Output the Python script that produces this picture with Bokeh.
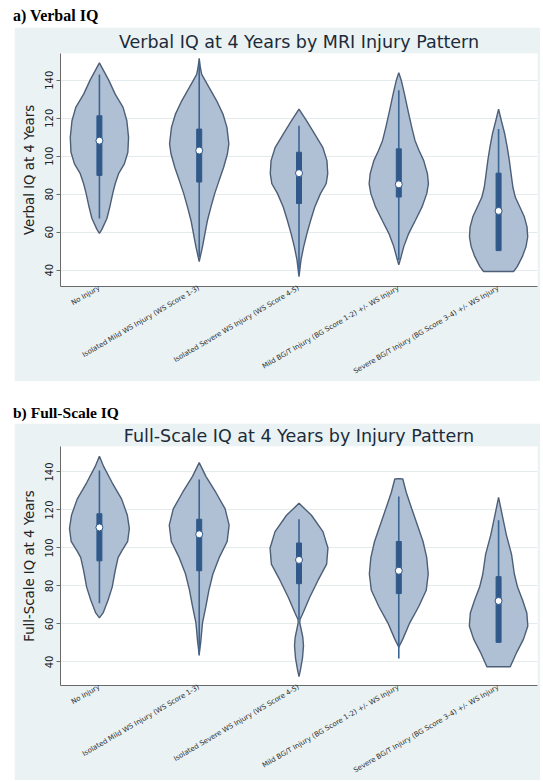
from bokeh.plotting import figure
from bokeh.models import FixedTicker, Range1d, Div
from bokeh.layouts import column
from bokeh.embed import file_html
from bokeh.resources import INLINE

# ---------------- data ----------------
categories = [
    "No Injury",
    "Isolated Mild WS Injury (WS Score 1-3)",
    "Isolated Severe WS Injury (WS Score 4-5)",
    "Mild BG/T Injury (BG Score 1-2) +/- WS Injury",
    "Severe BG/T Injury (BG Score 3-4) +/- WS Injury",
]
positions = [1, 2, 3, 4, 5]
y_ticks = [40, 60, 80, 100, 120, 140]

# Panel a: Verbal IQ -- violin outlines (IQ level, density half-width)
viq1_y = [149.2, 140.2, 132.7, 125.7, 118.7, 109.9, 102.1, 96.0, 90.8, 85.5, 80.3, 74.2, 67.2, 61.5, 59.4]
viq1_d = [0, 9.2, 15.8, 23.7, 27.5, 29.2, 28.5, 25.0, 19.2, 15.8, 13.3, 10.8, 7.5, 2.5, 0]
viq2_y = [151.5, 146.6, 143.1, 136.1, 129.2, 122.2, 115.2, 106.5, 101.3, 94.2, 87.3, 80.3, 73.3, 66.3, 59.4, 52.4, 44.5]
viq2_d = [0, 1.2, 2.5, 10.0, 17.5, 23.8, 27.8, 29.7, 28.3, 24.5, 20.0, 15.5, 11.8, 8.3, 5.8, 3.3, 0]
viq3_y = [124.8, 118.7, 111.7, 104.7, 97.7, 90.8, 85.5, 80.3, 73.3, 66.3, 59.4, 52.4, 45.4, 36.6]
viq3_d = [0, 7.5, 15.8, 23.8, 28.0, 28.8, 27.2, 21.5, 15.8, 11.7, 8.0, 4.7, 2.0, 0]
viq4_y = [144.0, 139.6, 132.7, 123.9, 115.2, 108.2, 103.0, 97.7, 90.8, 85.5, 80.3, 73.3, 66.3, 59.4, 52.4, 47.1, 42.8]
viq4_d = [0, 2.7, 5.7, 9.3, 13.0, 16.3, 20.3, 25.0, 28.7, 29.7, 28.0, 23.3, 16.7, 10.0, 5.0, 2.3, 0]
viq5_y = [124.8, 118.7, 111.7, 104.7, 97.7, 90.8, 83.8, 78.5, 73.3, 68.1, 62.8, 57.6, 52.4, 47.1, 41.9, 39.3]
viq5_d = [0, 2.8, 6.2, 8.7, 10.8, 12.5, 14.3, 16.7, 21.3, 25.8, 28.5, 29.2, 27.5, 23.8, 18.7, 15.0]
viq_median = [108.2, 103.0, 91.1, 85.2, 71.2]
viq_q1 = [89.9, 86.4, 75.1, 78.5, 50.3]
viq_q3 = [121.3, 114.3, 102.1, 103.9, 91.1]
viq_lo = [67.2, 47.0, 38.0, 45.4, 50.3]
viq_hi = [143.1, 150.0, 116.1, 134.8, 114.3]

# Panel b: Full-Scale IQ
fsiq1_y = [148.3, 142.9, 134.3, 125.7, 117.2, 110.3, 103.4, 98.3, 94.9, 88.0, 79.4, 72.6, 65.8, 63.2]
fsiq1_d = [0, 4.2, 12.8, 22.3, 28.0, 30.0, 28.3, 22.3, 18.7, 15.8, 12.8, 8.7, 3.7, 0]
fsiq2_y = [144.9, 137.7, 129.2, 120.6, 112.0, 103.4, 94.9, 86.3, 77.7, 69.2, 60.6, 50.3, 44.0]
fsiq2_d = [0, 6.7, 16.7, 26.0, 30.0, 28.0, 20.0, 13.7, 9.7, 6.7, 3.3, 1.5, 0]
fsiq3_y = [123.5, 117.2, 108.6, 100.0, 91.5, 82.9, 74.3, 65.8, 62.3, 60.5, 58.9, 53.0, 48.6, 42.0, 36.0, 32.3]
fsiq3_d = [0, 12.5, 24.0, 29.0, 27.7, 19.0, 11.0, 4.0, 1.0, 0.8, 1.5, 3.8, 4.5, 3.5, 1.5, 0]
fsiq4_y = [136.5, 136.3, 129.2, 120.6, 112.0, 103.4, 94.9, 86.3, 77.7, 69.2, 60.6, 52.0, 47.8]
fsiq4_d = [0, 4.0, 7.5, 13.0, 18.7, 24.3, 28.0, 29.5, 27.5, 20.0, 11.0, 4.0, 0]
fsiq5_y = [126.6, 117.2, 106.9, 96.6, 86.3, 79.4, 72.6, 65.8, 58.9, 52.0, 45.2, 37.5]
fsiq5_d = [0, 3.7, 7.8, 13.0, 15.8, 19.0, 24.0, 28.3, 29.3, 25.0, 18.3, 11.7]
fsiq_median = [110.8, 107.2, 93.7, 88.0, 72.1]
fsiq_q1 = [93.2, 88.0, 81.2, 76.0, 50.3]
fsiq_q3 = [118.0, 115.1, 102.6, 103.4, 84.9]
fsiq_lo = [70.9, 43.4, 62.3, 41.8, 50.3]
fsiq_hi = [140.8, 136.0, 115.1, 127.1, 114.6]

# ---------------- style ----------------
GRAY = "#EAF2F3"
FILL = "#AFBFD4"
OUTLINE = "#4D5E77"
BOX = "#30598A"
WHISK = "#3B6592"
DENSITY_SCALE = 0.01  # density units -> category widths
SANS = "DejaVu Sans"


def make_panel(title, ylabel, yrange, shapes, q1, q3, med, lo, hi,
               height, top, bottom, title_standoff):
    p = figure(width=526, height=height, x_range=Range1d(0.61, 5.39),
               y_range=Range1d(*yrange), output_backend="svg",
               toolbar_location=None, min_border_left=46, min_border_right=3,
               min_border_top=top, min_border_bottom=bottom, margin=(0, 0, 0, 14))
    p.border_fill_color = GRAY
    p.background_fill_color = "white"
    p.outline_line_color = None

    p.title.text = title
    p.title.align = "center"
    p.title.text_font = SANS
    p.title.text_font_style = "normal"
    p.title.text_font_size = "17.5px"
    p.title.text_color = "#1c2b3a"
    p.title.standoff = title_standoff

    p.xgrid.grid_line_color = None
    p.ygrid.ticker = FixedTicker(ticks=y_ticks)
    p.ygrid.grid_line_color = "#E3EBED"
    p.ygrid.grid_line_width = 1

    xs, ys = [], []
    for c, (yy, dd) in zip(positions, shapes):
        right = [c + d * DENSITY_SCALE for d in dd]
        left = [c - d * DENSITY_SCALE for d in dd]
        xs.append(right + left[::-1])
        ys.append(list(yy) + list(yy)[::-1])
    p.patches(xs, ys, fill_color=FILL, fill_alpha=1, line_color=OUTLINE, line_width=1.4)

    p.segment(x0=positions, y0=lo, x1=positions, y1=hi, line_color=WHISK, line_width=1.6)
    p.vbar(x=positions, bottom=q1, top=q3, width=0.05, fill_color=BOX, line_color=BOX)
    p.scatter(x=positions, y=med, size=7, fill_color="white", line_color=BOX, line_width=1)

    p.yaxis.ticker = FixedTicker(ticks=y_ticks)
    p.yaxis.major_label_orientation = "vertical"
    p.yaxis.axis_label = ylabel
    p.yaxis.axis_label_text_font = SANS
    p.yaxis.axis_label_text_font_style = "normal"
    p.yaxis.axis_label_text_font_size = "13.3px"
    p.yaxis.axis_label_text_color = "#222222"
    p.yaxis.axis_label_standoff = 6
    p.yaxis.major_label_text_font = SANS
    p.yaxis.major_label_text_font_size = "10px"
    p.yaxis.major_label_text_color = "#222222"
    p.yaxis.major_label_standoff = 3
    p.yaxis.major_tick_out = 4
    p.yaxis.major_tick_in = 0
    p.yaxis.minor_tick_line_color = None

    p.xaxis.ticker = FixedTicker(ticks=positions)
    p.xaxis.major_label_overrides = {k: v for k, v in zip(positions, categories)}
    p.xaxis.major_label_orientation = 0.53
    p.xaxis.major_label_text_font = SANS
    p.xaxis.major_label_text_font_size = "7px"
    p.xaxis.major_label_text_color = "#333333"
    p.xaxis.major_label_standoff = 1
    p.xaxis.major_tick_out = 0
    p.xaxis.major_tick_in = 0
    p.xaxis.major_tick_line_color = None
    p.xaxis.minor_tick_line_color = None

    for ax in (p.xaxis, p.yaxis):
        ax.axis_line_color = "#6a6a6a"
    p.yaxis.major_tick_line_color = "#6a6a6a"
    return p


def make_tag(text, height, pad_top, size):
    html = ('<div style="font-family:\'Liberation Serif\';font-weight:bold;'
            'font-size:%spx;line-height:19px;color:black;padding-top:%dpx;'
            'padding-left:13px;white-space:nowrap;">%s</div>' % (size, pad_top, text))
    return Div(text=html, width=300, height=height, margin=(0, 0, 0, 0))


tag_a = make_tag("a) Verbal IQ", 27, 6, 16)
pa = make_panel("Verbal IQ at 4 Years by MRI Injury Pattern",
                "Verbal IQ at 4 Years", (31.4, 154.1),
                [(viq1_y, viq1_d), (viq2_y, viq2_d), (viq3_y, viq3_d), (viq4_y, viq4_d), (viq5_y, viq5_d)],
                viq_q1, viq_q3, viq_median, viq_lo, viq_hi,
                height=354, top=25, bottom=94, title_standoff=4)

tag_b = make_tag("b) Full-Scale IQ", 42, 22, 15.5)
pb = make_panel("Full-Scale IQ at 4 Years by Injury Pattern",
                "Full-Scale IQ at 4 Years", (27.6, 153.4),
                [(fsiq1_y, fsiq1_d), (fsiq2_y, fsiq2_d), (fsiq3_y, fsiq3_d), (fsiq4_y, fsiq4_d), (fsiq5_y, fsiq5_d)],
                fsiq_q1, fsiq_q3, fsiq_median, fsiq_lo, fsiq_hi,
                height=357, top=22, bottom=92, title_standoff=1)

layout = column(tag_a, pa, tag_b, pb, spacing=0)
open("out.html", "w").write(file_html(layout, INLINE))
